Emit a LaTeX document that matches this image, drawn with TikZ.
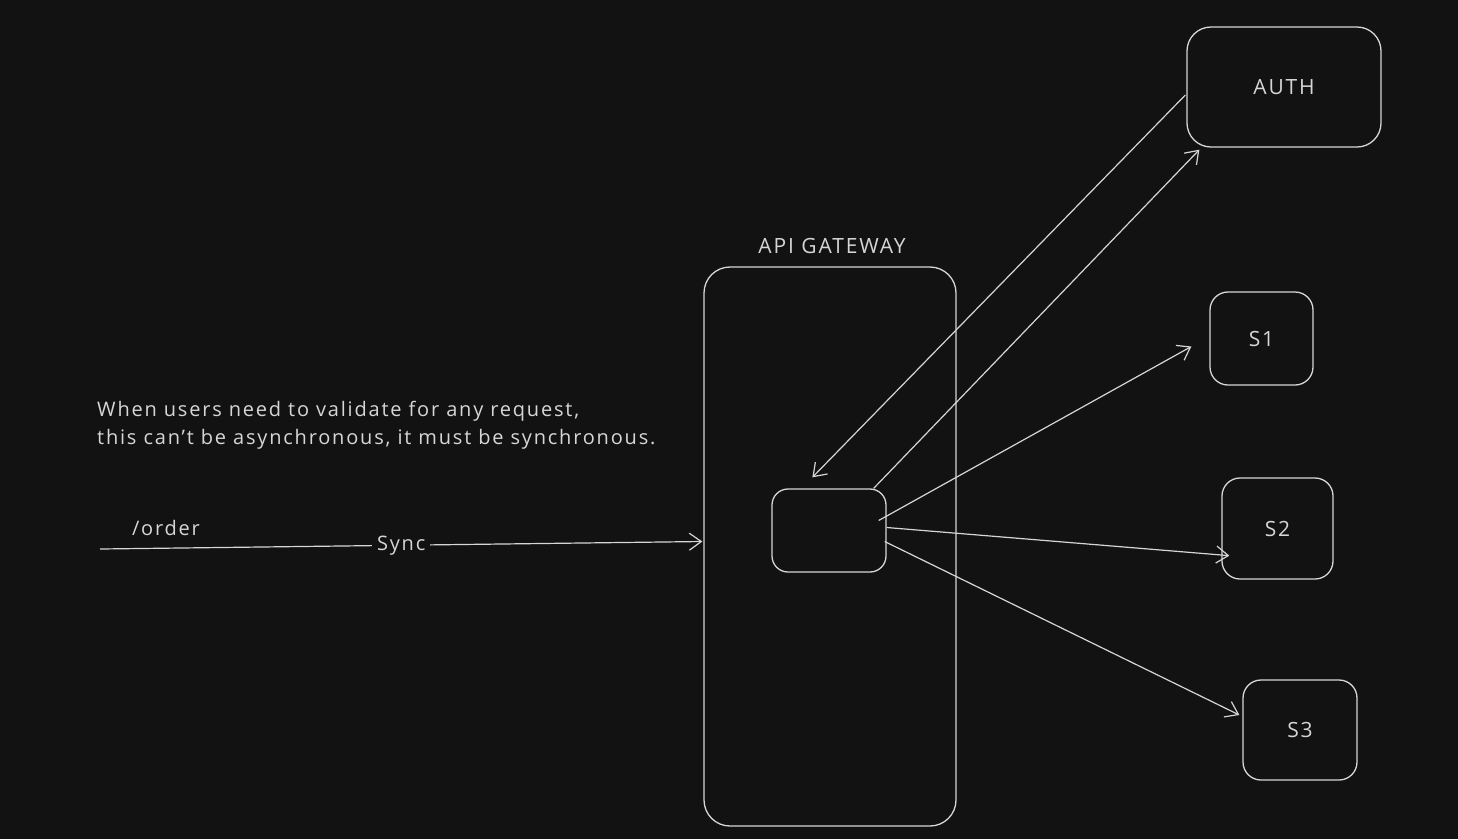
\documentclass[tikz,border=0pt]{standalone}
\usepackage{fontspec}
\setmainfont{Open Sans}[LetterSpace=9]
\usetikzlibrary{arrows.meta}
\usetikzlibrary{positioning}
\usetikzlibrary{calc}
\definecolor{canvas}{HTML}{121212}
\definecolor{ink}{HTML}{D6D6D6}
\tikzset{box/.style={draw=ink,
                     line width=1.3pt,
                     rounded corners=#1,
                     inner sep=0pt,
                     text=ink,
                     font=\fontsize{21}{24}\selectfont},
         box/.default=22pt}
\tikzset{link/.style={draw=ink,
                      line width=1.2pt,
                      -{Straight Barb[length=12pt,width=17pt]}}}
\tikzset{note/.style={text=ink,inner sep=0pt,
                      font=\fontsize{20}{28}\selectfont}}
\begin{document}
\begin{tikzpicture}
      [
      x=1pt,y=-1pt,
      ]

      % canvas
      \fill [canvas] (0,0) rectangle (1458,839);
      \useasboundingbox (0,0) rectangle (1458,839);

      % boxes
      \node [box=26pt,minimum width=252pt,minimum height=559pt] (GW) at (830,546.5) {};
      \node [note,font=\fontsize{21}{24}\selectfont] (GWlabel) at (832,246) {API GATEWAY};
      \node [box=16pt,minimum width=114pt,minimum height=83pt] (Inner) at (829,530.5) {};
      \node [box=24pt,minimum width=194pt,minimum height=120pt] (Auth) at (1284,87) {AUTH};
      \node [box=18pt,minimum width=103pt,minimum height=93pt] (S1) at (1261.5,338.5) {S1};
      \node [box=18pt,minimum width=111pt,minimum height=101pt] (S2) at (1277.5,528.5) {S2};
      \node [box=18pt,minimum width=114pt,minimum height=100pt] (S3) at (1300,730) {S3};

      % texts
      \node [note,anchor=north west,align=left] (Why) at (97,401)
      {When users need to validate for any request,\\
       this can't be asynchronous, it must be synchronous.};
      \node [note] (Route) at (166,528) {/order};

      % incoming request
      \coordinate (Client) at (100,549);
      \draw [link] (Client) -- node [note,fill=canvas,inner sep=5pt] (Sync) {Sync}
      ($(GW.west)+(-1,-5)$);

      % auth round trip
      \draw [link] ($(Auth.west)+(-1,8)$) -- ($(Inner.north west)+(41,-11)$);
      \draw [link] ($(Inner.north east)+(-13,0)$) -- ($(Auth.south west)+(13,2)$);

      % services
      \draw [link] ($(Inner.east)+(-8,-10)$) -- ($(S1.west)+(-18,8)$);
      \draw [link] ($(Inner.east)+(0,-3)$) -- ($(S2.south west)+(8,-24)$);
      \draw [link] ($(Inner.east)+(-2,11)$) -- ($(S3.west)+(-3,-15)$);

    \end{tikzpicture}
\end{document}
